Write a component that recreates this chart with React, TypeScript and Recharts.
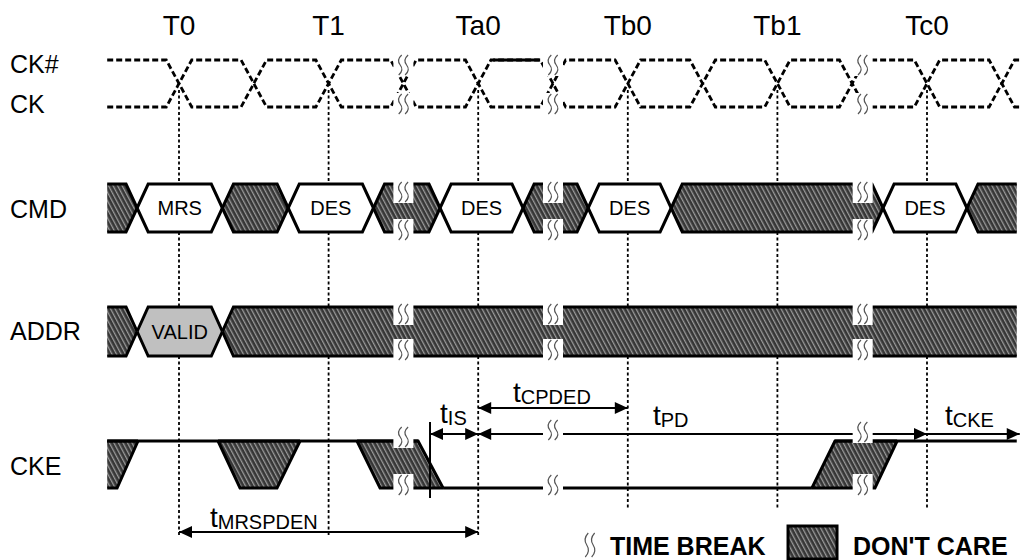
import React from 'react';
import { ComposedChart, XAxis, YAxis, Line, Area, Scatter } from 'recharts';

// ---------------- data (time in clock cycles, T0 = 0) ----------------
const T_TICKS = [0, 1, 2, 3, 4, 5];
const T_LABELS = ['T0', 'T1', 'Ta0', 'Tb0', 'Tb1', 'Tc0'];
const SIGNALS = ['CK#', 'CK', 'CMD', 'ADDR', 'CKE'];

const WAVE_START = -0.48;
const WAVE_END = 5.6;
const CLOCK_CROSSINGS = [0, 0.5, 1, 1.5, 2, 2.5, 3, 3.5, 4, 4.5, 5, 5.5];
const CLOCK_END = 5.62;
const CLOCK_SOLID = [2.1, 2.41];
const TIME_BREAKS = [1.5, 2.5, 4.57];

const CMD_EDGES = [-0.28, 0.29, 0.73, 1.3, 1.745, 2.3, 2.735, 3.29, 4.706, 5.267];
const CMD_VALUES = ['', 'MRS', '', 'DES', '', 'DES', '', 'DES', '', 'DES', ''];
const ADDR_EDGES = [-0.28, 0.29];
const ADDR_VALUES = ['', 'VALID', ''];

// CKE don't-care regions: [time, lower level, upper level]
const CKE_DONT_CARE: number[][][] = [
  [[-0.48, 0, 1], [-0.414, 0, 1], [-0.274, 1, 1]],
  [[0.261, 1, 1], [0.408, 0, 1], [0.655, 0, 1], [0.809, 1, 1]],
  [[1.19, 1, 1], [1.344, 0, 1], [1.598, 0, 1], [1.765, 0, 0]],
  [[4.231, 0, 0], [4.385, 0, 1], [4.652, 0, 1], [4.8, 1, 1]],
];
// CKE stable levels: [from, to, level]
const CKE_RUNS = [[-0.48, 1.598, 1], [1.765, 4.231, 0], [4.385, 5.6, 1]];
const CKE_SETUP_EDGE = 1.678;

const TIMINGS = [
  { name: 'MRSPDEN', from: 0, to: 2, startHead: true, endHead: true, labelAt: 0.207 },
  { name: 'IS', from: 1.678, to: 2, startHead: true, endHead: true, labelAt: 1.745 },
  { name: 'CPDED', from: 2, to: 3, startHead: true, endHead: true, labelAt: 2.233 },
  { name: 'PD', from: 2, to: 5, startHead: true, endHead: true, labelAt: 3.168 },
  { name: 'CKE', from: 5, to: 5.62, startHead: false, endHead: true, labelAt: 5.12 },
];

const LEGEND_ITEMS = [
  { kind: 'break', label: 'TIME BREAK', at: 2.747 },
  { kind: 'dc', label: "DON'T CARE", at: 4.071 },
];

// ---------------- layout ----------------
const WIDTH = 1029;
const HEIGHT = 560;
const FONT = '"Liberation Sans", Arial, Helvetica, sans-serif';
const PX_PER_T = 149.6;
const T0_PX = 179;
const AXIS_SIZE = 1; // axes must be at least 1px to draw their ticks
const X_DOMAIN = [(AXIS_SIZE - T0_PX) / PX_PER_T, (WIDTH - T0_PX) / PX_PER_T];
const Y_DOMAIN = [AXIS_SIZE, HEIGHT];

const CK_HIGH = 60;
const CK_LOW = 107;
const CMD_ROW = [184, 232];
const ADDR_ROW = [307, 356];
const CKE_ROW = [441, 488];
const SIGNAL_LABEL_Y = [64, 104, 209, 331, 466];
const T_LABEL_BASELINE = 35;
const GUIDE_TOP = 90;
const GUIDE_BOTTOM = [537, 537, 537, 508, 508, 508];
const CLK_SLEW = 0.085;
const BUS_SLEW = 0.074;
const TIMING_Y: Record<string, number> = { MRSPDEN: 532, IS: 434, CPDED: 408, PD: 434, CKE: 434 };
const TIMING_LABEL_Y: Record<string, number> = { MRSPDEN: 527, IS: 423, CPDED: 402, PD: 425, CKE: 425 };
const BREAK_GLYPH_Y = [
  [65, 104, 192, 230, 314, 350, 437, 485],
  [65, 104, 192, 230, 314, 350, 430, 485],
  [65, 104, 192, 230, 314, 350, 432, 485],
];
const LEGEND_Y = 545;

// ---------------- derived series ----------------
const clockSeries = (startHigh: boolean) => {
  let high = startHigh;
  const pts = [{ x: WAVE_START, y: high ? CK_HIGH : CK_LOW }];
  CLOCK_CROSSINGS.forEach((c) => {
    pts.push({ x: c - CLK_SLEW, y: high ? CK_HIGH : CK_LOW });
    high = !high;
    pts.push({ x: c + CLK_SLEW, y: high ? CK_HIGH : CK_LOW });
  });
  pts.push({ x: CLOCK_END, y: high ? CK_HIGH : CK_LOW });
  return pts;
};

const busShapes = (edges: number[], values: string[], row: number[]) => {
  const [top, bot] = row;
  const mid = (top + bot) / 2;
  const bounds = [WAVE_START, ...edges, WAVE_END];
  return values.map((label, i) => {
    const a = bounds[i];
    const b = bounds[i + 1];
    const pts: { x: number; y: number[] }[] = [];
    if (i === 0) pts.push({ x: a, y: [bot, top] });
    else pts.push({ x: a, y: [mid, mid] }, { x: a + BUS_SLEW, y: [bot, top] });
    if (i === values.length - 1) pts.push({ x: b, y: [bot, top] });
    else pts.push({ x: b - BUS_SLEW, y: [bot, top] }, { x: b, y: [mid, mid] });
    return { label, pts, center: (a + b) / 2, mid };
  });
};

const ckeY = (lvl: number) => (lvl ? CKE_ROW[0] : CKE_ROW[1]);

const CMD_SHAPES = busShapes(CMD_EDGES, CMD_VALUES, CMD_ROW);
const ADDR_SHAPES = busShapes(ADDR_EDGES, ADDR_VALUES, ADDR_ROW);
const BUS_LABELS = [...CMD_SHAPES, ...ADDR_SHAPES]
  .filter((s) => s.label)
  .map((s) => ({ x: s.center, y: s.mid, label: s.label }));

const CKE_AREAS = CKE_DONT_CARE.map((shape) =>
  shape.map(([t, lo, hi]) => ({ x: t, y: [ckeY(lo), ckeY(hi)] }))
);

const GUIDES = T_TICKS.map((t, i) => [
  { x: t, y: GUIDE_TOP },
  { x: t, y: CMD_ROW[0] },
  { x: t, y: null },
  { x: t, y: CMD_ROW[1] },
  { x: t, y: ADDR_ROW[0] },
  { x: t, y: null },
  { x: t, y: ADDR_ROW[1] },
  { x: t, y: GUIDE_BOTTOM[i] },
]);

const BREAK_MARKS = TIME_BREAKS.flatMap((b, i) => BREAK_GLYPH_Y[i].map((y) => ({ x: b, y })));

const ARROW_HEADS = TIMINGS.flatMap((tm) => {
  const out: { x: number; y: number; dir: number }[] = [];
  if (tm.startHead) out.push({ x: tm.from, y: TIMING_Y[tm.name], dir: -1 });
  if (tm.endHead) out.push({ x: tm.to, y: TIMING_Y[tm.name], dir: 1 });
  return out;
});
const TIMING_LABELS = TIMINGS.map((tm) => ({ x: tm.labelAt, y: TIMING_LABEL_Y[tm.name], name: tm.name }));
const LEGEND_DATA = LEGEND_ITEMS.map((l) => ({ x: l.at, y: LEGEND_Y, kind: l.kind, label: l.label }));

// ---------------- shapes ----------------
const glyphPaths = (cx: number, cy: number, h: number) =>
  [-3.2, 3.2].map((o, k) => (
    <path
      key={k}
      d={`M${cx + o + 1.5},${cy - h} Q${cx + o - 4},${cy - h / 2} ${cx + o},${cy} Q${cx + o + 4},${cy + h / 2} ${cx + o - 1.5},${cy + h}`}
      fill="none"
      stroke="#555"
      strokeWidth={1.2}
    />
  ));

const BreakGlyph = (p: any) => {
  const { cx, cy } = p;
  return (
    <g>
      <rect x={cx - 10} y={cy - 11} width={20} height={22} fill="#fff" />
      {glyphPaths(cx, cy, 10)}
    </g>
  );
};

const ArrowHead = (p: any) => {
  const { cx, cy, payload } = p;
  const d = payload.dir;
  return <path d={`M${cx},${cy} L${cx - d * 13},${cy - 6} L${cx - d * 13},${cy + 6} Z`} fill="#000" />;
};

const TimingLabel = (p: any) => {
  const { cx, cy, payload } = p;
  return (
    <text x={cx} y={cy} fontFamily={FONT} fill="#000">
      <tspan fontSize={28}>t</tspan>
      <tspan fontSize={20} dy={2}>
        {payload.name}
      </tspan>
    </text>
  );
};

const BusLabel = (p: any) => {
  const { cx, cy, payload } = p;
  return (
    <text x={cx} y={cy} dy="0.36em" textAnchor="middle" fontFamily={FONT} fontSize={20} fill="#000">
      {payload.label}
    </text>
  );
};

const LegendItem = (p: any) => {
  const { cx, cy, payload } = p;
  if (payload.kind === 'break') {
    return (
      <g>
        {glyphPaths(cx, cy, 12)}
        <text x={cx + 20} y={cy + 10} fontFamily={FONT} fontWeight="bold" fontSize={25} fill="#000">
          {payload.label}
        </text>
      </g>
    );
  }
  return (
    <g>
      <rect x={cx} y={cy - 19} width={49} height={33} fill="url(#dontcare)" stroke="#000" strokeWidth={3} />
      <text x={cx + 65} y={cy + 10} fontFamily={FONT} fontWeight="bold" fontSize={25} fill="#000">
        {payload.label}
      </text>
    </g>
  );
};

const TLabelTick = (p: any) => {
  const idx = T_TICKS.indexOf(p.payload.value);
  return (
    <text x={p.x} y={T_LABEL_BASELINE} textAnchor="middle" fontFamily={FONT} fontSize={28} fill="#000">
      {T_LABELS[idx]}
    </text>
  );
};

const SignalTick = (p: any) => {
  const idx = SIGNAL_LABEL_Y.indexOf(p.payload.value);
  return (
    <text x={10} y={p.y} dy="0.36em" textAnchor="start" fontFamily={FONT} fontSize={25} fill="#000">
      {SIGNALS[idx]}
    </text>
  );
};

const lineProps = { type: 'linear' as const, dot: false, activeDot: false, isAnimationActive: false, dataKey: 'y' };

export default function App() {
  return (
    <div style={{ position: 'fixed', left: 0, top: 0, width: WIDTH, height: HEIGHT, background: '#fff' }}>
      <ComposedChart width={WIDTH} height={HEIGHT} margin={{ top: 0, right: 0, bottom: 0, left: 0 }}>
        <defs>
          <pattern id="dontcare" patternUnits="userSpaceOnUse" width={4} height={4} patternTransform="rotate(-28)">
            <rect width={4} height={4} fill="#363636" />
            <rect width={1.3} height={4} fill="#9a9a9a" />
          </pattern>
        </defs>
        <XAxis
          dataKey="x"
          orientation="top"
          type="number"
          domain={X_DOMAIN}
          allowDataOverflow
          ticks={T_TICKS}
          interval={0}
          height={AXIS_SIZE}
          axisLine={false}
          tickLine={false}
          tick={TLabelTick}
        />
        <YAxis
          dataKey="y"
          type="number"
          domain={Y_DOMAIN}
          reversed
          allowDataOverflow
          width={AXIS_SIZE}
          ticks={SIGNAL_LABEL_Y}
          interval={0}
          axisLine={false}
          tickLine={false}
          tick={SignalTick}
        />

        {/* bus and CKE fills */}
        {CMD_SHAPES.map((s, i) => (
          <Area
            key={`cmd${i}`}
            data={s.pts}
            dataKey="y"
            type="linear"
            fill={s.label ? '#fff' : 'url(#dontcare)'}
            fillOpacity={1}
            stroke="#000"
            strokeWidth={3}
            dot={false}
            activeDot={false}
            isAnimationActive={false}
          />
        ))}
        {ADDR_SHAPES.map((s, i) => (
          <Area
            key={`addr${i}`}
            data={s.pts}
            dataKey="y"
            type="linear"
            fill={s.label ? '#c0c0c0' : 'url(#dontcare)'}
            fillOpacity={1}
            stroke="#000"
            strokeWidth={3}
            dot={false}
            activeDot={false}
            isAnimationActive={false}
          />
        ))}
        {CKE_AREAS.map((pts, i) => (
          <Area
            key={`cke${i}`}
            data={pts}
            dataKey="y"
            type="linear"
            fill="url(#dontcare)"
            fillOpacity={1}
            stroke="#000"
            strokeWidth={3}
            dot={false}
            activeDot={false}
            isAnimationActive={false}
          />
        ))}

        {/* guide lines */}
        {GUIDES.map((g, i) => (
          <Line key={`g${i}`} {...lineProps} data={g} stroke="#000" strokeWidth={1.8} strokeDasharray="3 2.5" />
        ))}

        {/* clocks */}
        <Line {...lineProps} data={clockSeries(true)} stroke="#000" strokeWidth={2.8} strokeDasharray="6 3" />
        <Line {...lineProps} data={clockSeries(false)} stroke="#000" strokeWidth={2.8} strokeDasharray="6 3" />
        <Line
          {...lineProps}
          data={[{ x: CLOCK_SOLID[0], y: CK_HIGH }, { x: CLOCK_SOLID[1], y: CK_HIGH }]}
          stroke="#000"
          strokeWidth={3}
        />

        {/* CKE levels */}
        {CKE_RUNS.map(([a, b, lvl], i) => (
          <Line
            key={`run${i}`}
            {...lineProps}
            data={[{ x: a, y: ckeY(lvl) }, { x: b, y: ckeY(lvl) }]}
            stroke="#000"
            strokeWidth={3}
          />
        ))}
        <Line
          {...lineProps}
          data={[{ x: CKE_SETUP_EDGE, y: 422 }, { x: CKE_SETUP_EDGE, y: 498 }]}
          stroke="#000"
          strokeWidth={2}
        />

        {/* timing dimension lines */}
        {TIMINGS.map((tm) => (
          <Line
            key={`tm${tm.name}`}
            {...lineProps}
            data={[{ x: tm.from, y: TIMING_Y[tm.name] }, { x: tm.to, y: TIMING_Y[tm.name] }]}
            stroke="#000"
            strokeWidth={2}
          />
        ))}

        <Scatter data={BREAK_MARKS} shape={BreakGlyph} isAnimationActive={false} />
        <Scatter data={ARROW_HEADS} shape={ArrowHead} isAnimationActive={false} />
        <Scatter data={BUS_LABELS} shape={BusLabel} isAnimationActive={false} />
        <Scatter data={TIMING_LABELS} shape={TimingLabel} isAnimationActive={false} />
        <Scatter data={LEGEND_DATA} shape={LegendItem} isAnimationActive={false} />
      </ComposedChart>
    </div>
  );
}
